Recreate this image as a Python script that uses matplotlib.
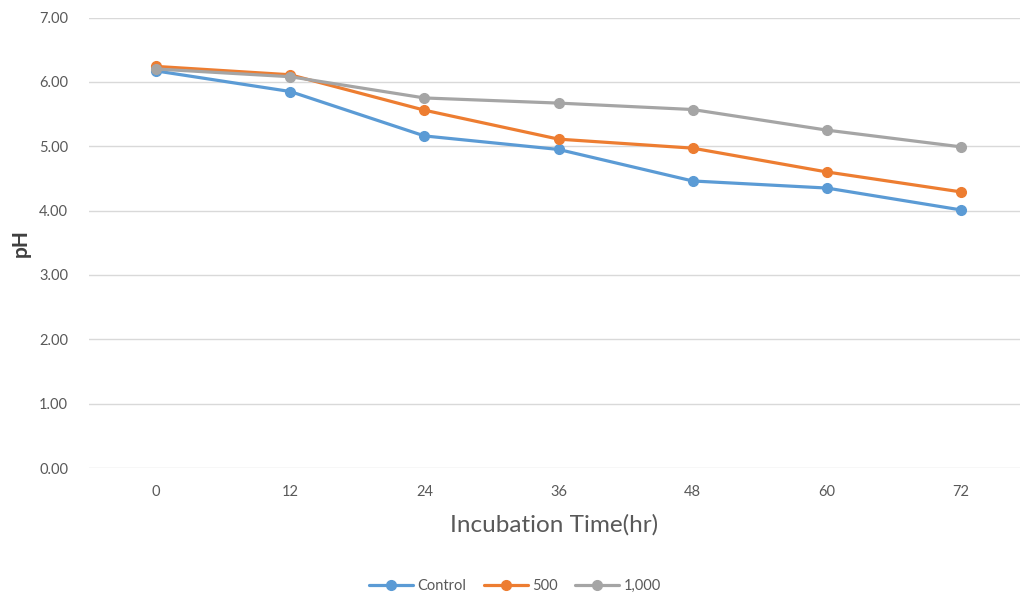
import matplotlib
matplotlib.use("Agg")
import matplotlib.pyplot as plt

plt.rcParams['font.family'] = ['Lato', 'DejaVu Sans']

hours = ["0", "12", "24", "36", "48", "60", "72"]
control = [6.17, 5.85, 5.16, 4.95, 4.46, 4.35, 4.01]
conc_500 = [6.24, 6.11, 5.56, 5.11, 4.97, 4.60, 4.29]
conc_1000 = [6.20, 6.08, 5.75, 5.67, 5.57, 5.25, 4.99]
series_names = ["Control", "500", "1,000"]
y_ticks = [0, 1, 2, 3, 4, 5, 6, 7]

colors = ["#5B9BD5", "#ED7D31", "#A5A5A5"]
text_color = "#595959"

fig = plt.figure(figsize=(10.21, 5.98), dpi=100)
W, H = 1021, 598
ax = fig.add_axes([89 / W, (H - 468) / H, (1020 - 89) / W, (468 - 17.5) / H])

x = list(range(len(hours)))
for vals, name, c in zip([control, conc_500, conc_1000], series_names, colors):
    ax.plot(x, vals, color=c, lw=2.3, marker='o', markersize=7, label=name,
            solid_capstyle='round', zorder=3)

ax.set_xlim(-0.5, 6.44)
ax.set_ylim(0, 7)
ax.set_yticks(y_ticks)
ax.set_yticklabels([f"{v:.2f}" for v in y_ticks])
ax.set_xticks(x)
ax.set_xticklabels(hours)
ax.grid(axis='y', color="#D9D9D9", lw=1)
ax.set_axisbelow(True)
for s in ax.spines.values():
    s.set_visible(False)
ax.tick_params(axis='both', length=0, colors=text_color, labelsize=10.5)
ax.tick_params(axis='y', pad=15)
ax.tick_params(axis='x', pad=12)

ax.set_xlabel("Incubation Time(hr)", fontsize=17.5, color=text_color, labelpad=11)
ax.set_ylabel("pH", fontsize=15, color="#404040", fontweight='bold')
ax.yaxis.set_label_coords((31 - 89) / 931, 0.5)

fig.legend(loc='center', bbox_to_anchor=(515 / W, 1 - 586 / H), ncol=3, frameon=False,
           fontsize=10.5, labelcolor=text_color, handlelength=3, handletextpad=0.3,
           columnspacing=1.2)

fig.savefig("out.png", dpi=100)
